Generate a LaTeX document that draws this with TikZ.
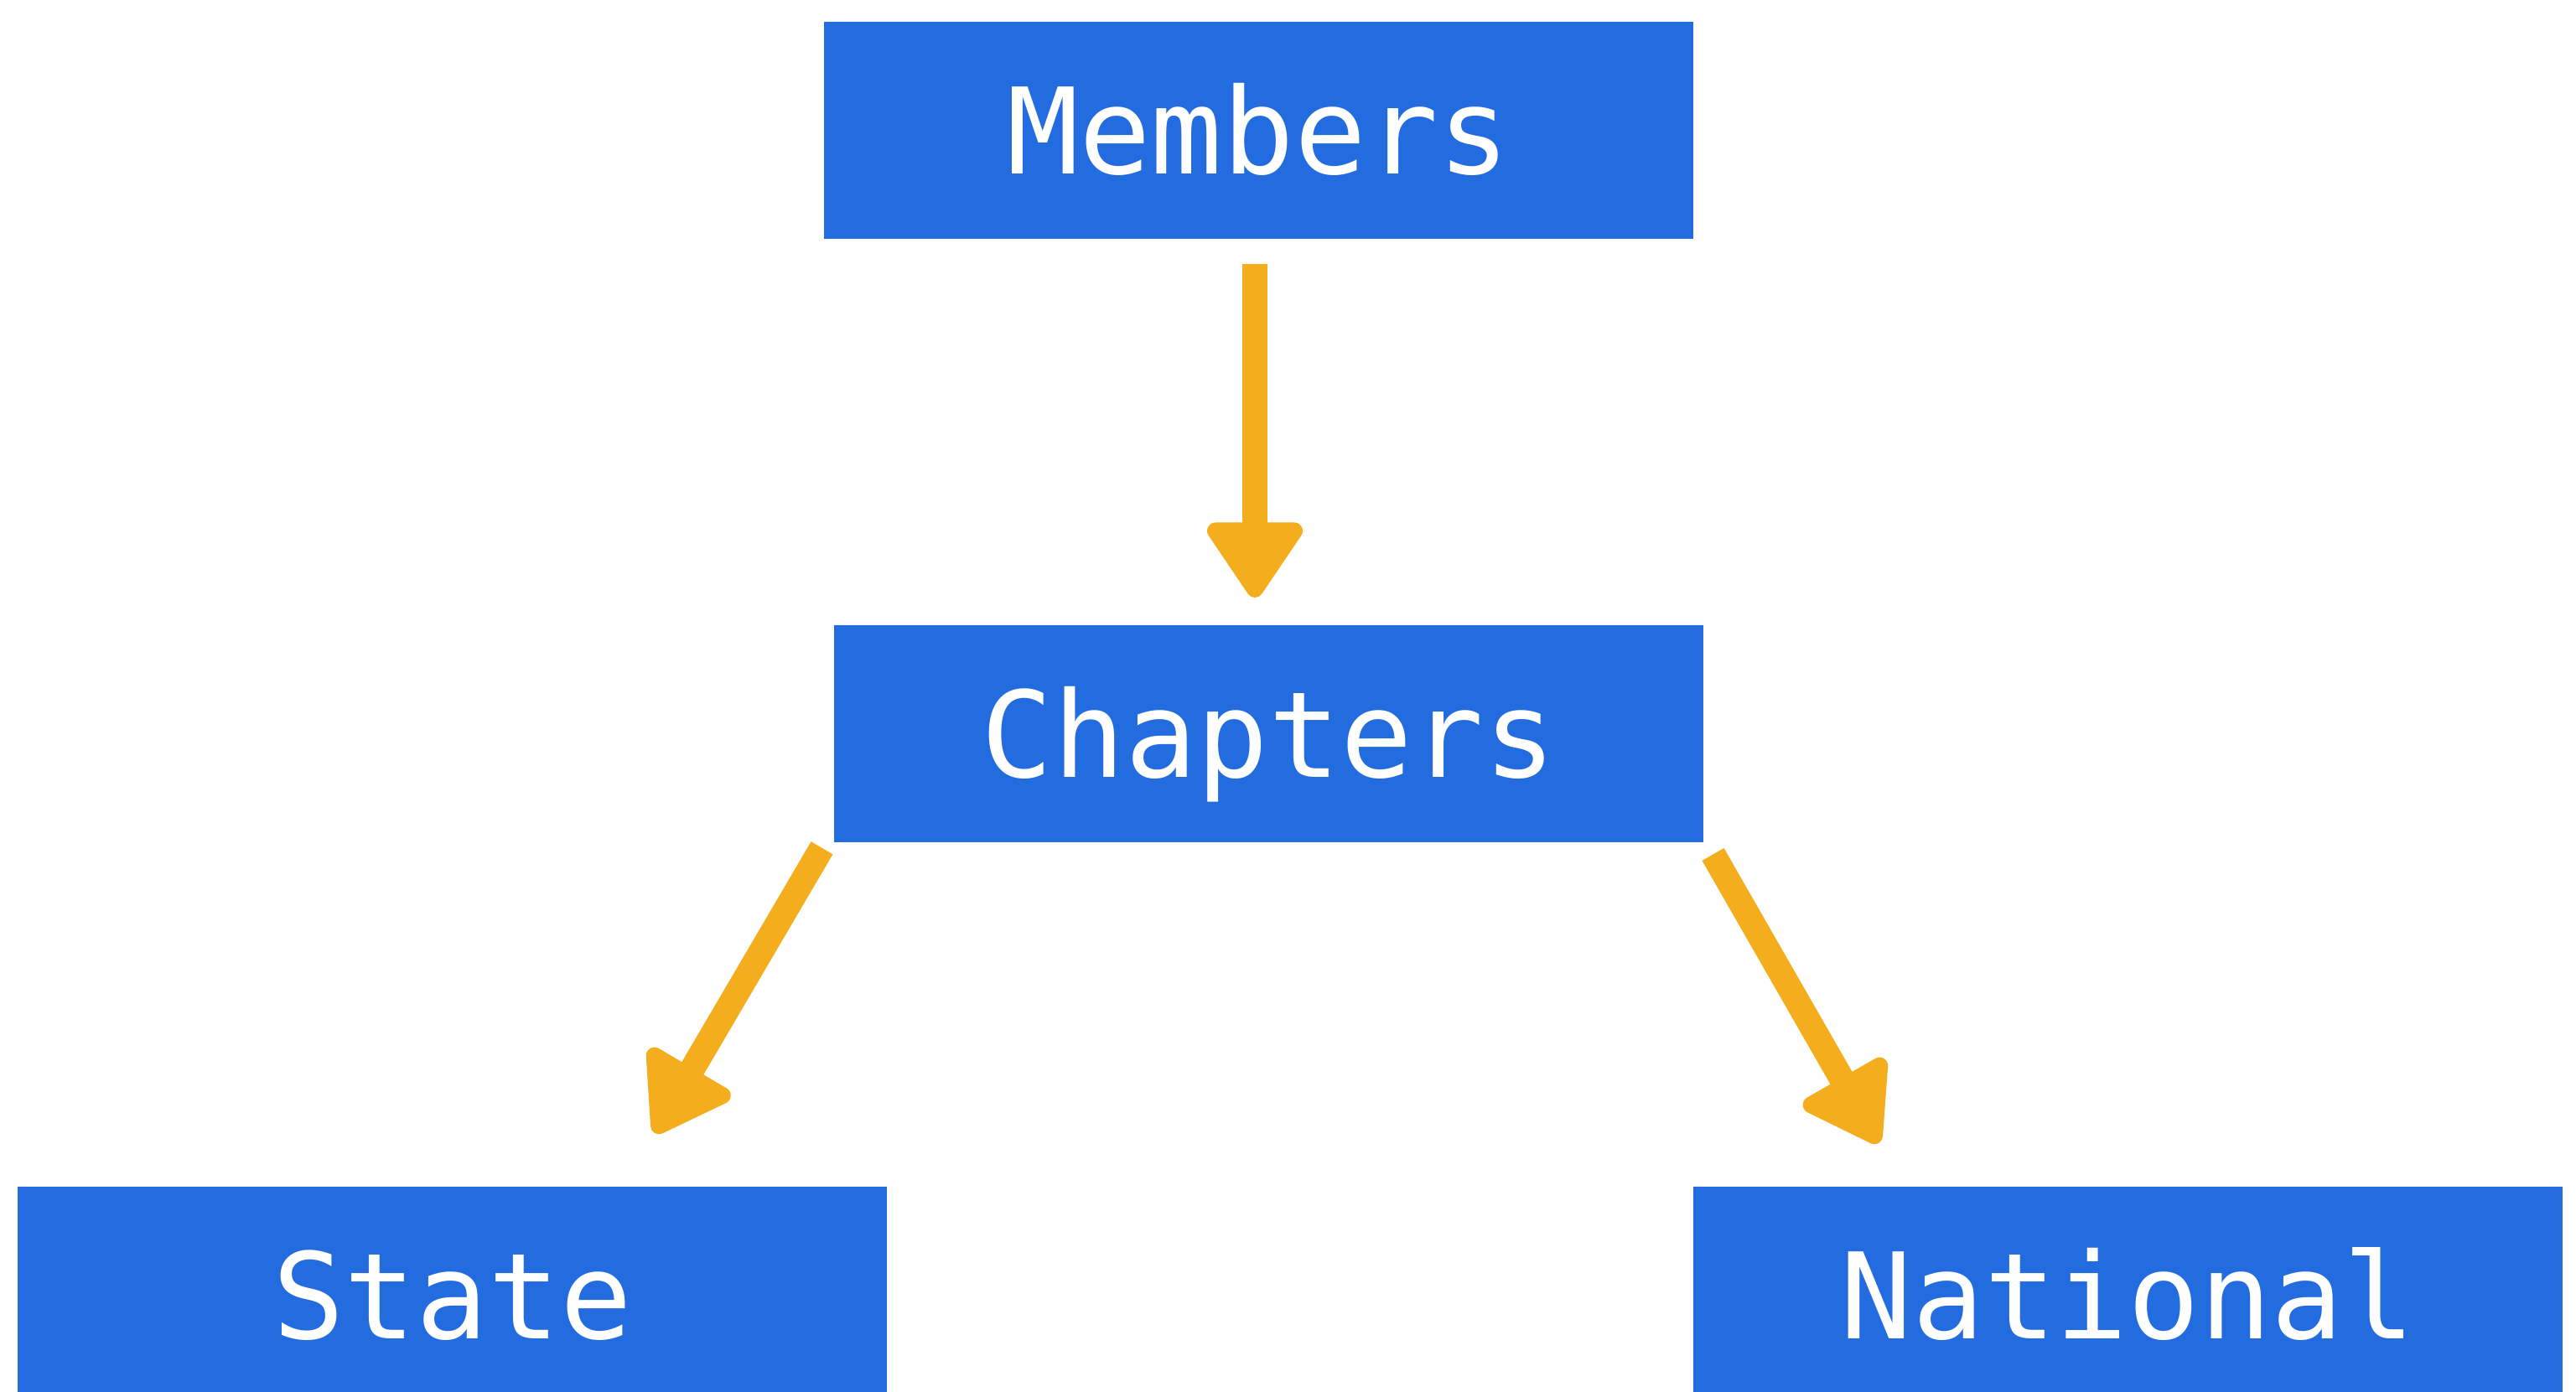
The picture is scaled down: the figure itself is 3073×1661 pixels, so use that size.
\documentclass[tikz,border=0pt]{standalone}
\usepackage{fontspec}
\setmonofont{DejaVu Sans Mono}
\usetikzlibrary{arrows.meta}
\definecolor{boxblue}{HTML}{236CDF}
\definecolor{arrowgold}{HTML}{F3AD1D}
\begin{document}
\begin{tikzpicture}[x=0.01cm,y=-0.01cm,
  box/.style={fill=boxblue, draw=none, minimum width=10.37cm, minimum height=2.59cm,
    inner sep=0pt, text=white, font=\ttfamily\fontsize{40.5}{48}\selectfont,
    text height=29.5pt, text depth=0pt, anchor=north west},
  flow/.style={draw=arrowgold, line width=0.3cm,
    -{Triangle[length=0.98cm, width=1.26cm, round, line width=0.2cm]}}]
\useasboundingbox (0,0) rectangle (3073,1661);
\node[box] (m) at (982,25) {Members};
\node[box] (c) at (994,745) {Chapters};
\node[box] (s) at (20,1415) {State};
\node[box] (n) at (2019,1415) {National};
\coordinate (a1s) at (1497,315);
\coordinate (a1e) at (1497,713);
\coordinate (a2s) at (980.5,1011.8);
\coordinate (a2e) at (781,1352);
\coordinate (a3s) at (2043.5,1019.5);
\coordinate (a3e) at (2241,1364);
\draw[flow] (a1s) -- (a1e);
\draw[flow] (a2s) -- (a2e);
\draw[flow] (a3s) -- (a3e);
\end{tikzpicture}
\end{document}
